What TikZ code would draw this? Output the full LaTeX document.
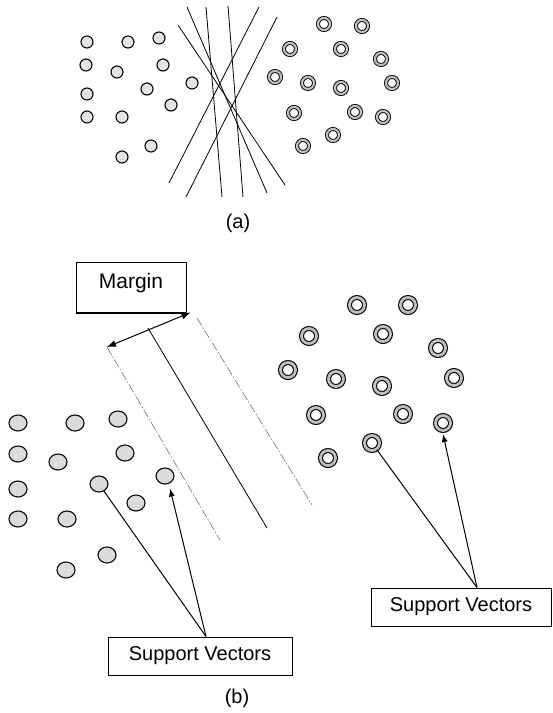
\documentclass[tikz,border=0pt]{standalone}
\usepackage{fontspec}
\setmainfont{Liberation Sans}
\usetikzlibrary{shapes.geometric,arrows.meta}
\tikzset{
  adot/.style={circle,draw=black,line width=1.1pt,fill=gray!20,minimum size=12pt,inner sep=0pt},
  bdot/.style={ellipse,draw=black,line width=1.1pt,fill=gray!28,minimum width=18pt,minimum height=16pt,inner sep=0pt},
  aring/.style={circle,draw=black,line width=0.9pt,double=gray!50,double distance=2.2pt,minimum size=12pt,inner sep=0pt},
  bring/.style={circle,draw=black,line width=1.1pt,double=gray!50,double distance=2.8pt,minimum size=15pt,inner sep=0pt},
  sepline/.style={line width=0.8pt},
  marginline/.style={gray,line width=0.7pt,dash pattern=on 9pt off 2pt on 1.5pt off 2pt},
  labelbox/.style={draw=black,line width=1pt,inner sep=0pt,fill=white},
  captext/.style={font=\fontsize{20}{24}\selectfont},
  conn/.style={line width=1pt},
  arrowtip/.style={-{Latex[length=8pt,width=6pt]}},
}
\begin{document}
\begin{tikzpicture}[x=1pt,y=-1pt]
\useasboundingbox (0,0) rectangle (553,713);
% ---------- (a) ----------
\foreach \x/\y [count=\i] in {87/42,128/42,159/38,86/65,117/72,163/65,192/83,87/94,147/89,171/105,87/117,122/117,151/146,122/157}
  \node[adot] (a\i) at (\x,\y) {};
\foreach \x/\y [count=\i] in {324/24,362/26,290/49,341/49,381/59,275/77,308/83,341/88,392/83,294/113,355/112,383/117,333/135,303/146}
  \node[aring] (ar\i) at (\x,\y) {};
\coordinate (l1s) at (187,7);   \coordinate (l1e) at (267,193);
\coordinate (l2s) at (178,25);  \coordinate (l2e) at (285,185);
\coordinate (l3s) at (206,7);   \coordinate (l3e) at (222,197);
\coordinate (l4s) at (228,6);   \coordinate (l4e) at (243,197);
\coordinate (l5s) at (259,7);   \coordinate (l5e) at (169,183);
\coordinate (l6s) at (277,17);  \coordinate (l6e) at (186,197);
\foreach \i in {1,...,6} \draw[sepline] (l\i s) -- (l\i e);
\node[captext] (capa) at (238,223) {(a)};
% ---------- (b) ----------
\foreach \x/\y [count=\i] in {18/423,75/423,118/419,18/454,58/462,125/453,165/476,99/484,18/489,136/503,18/519,67/519,107/555,66/570}
  \node[bdot] (b\i) at (\x,\y) {};
\foreach \x/\y [count=\i] in {357/305,408/305,309/336,383/334,438/348,288/370,336/379,382/386,454/378,316/415,403/414,443/423,372/443,328/458}
  \node[bring] (br\i) at (\x,\y) {};
% hyperplane and margins
\coordinate (hs) at (148,328); \coordinate (he) at (267,528);
\coordinate (ms) at (107,347); \coordinate (me) at (220,540);
\coordinate (ns) at (197,318); \coordinate (ne) at (312,505);
\draw[sepline] (hs) -- (he);
\draw[marginline] (ms) -- (me);
\draw[marginline] (ns) -- (ne);
% margin label
\node[labelbox,minimum width=110pt,minimum height=50pt] (margin) at (131,287) {};
\node[font=\fontsize{21}{24}\selectfont] (margintxt) at (131,283) {Margin};
\draw[line width=2pt] (margin.south west) -- (margin.south east);
\draw[conn,{Latex[length=9pt,width=7pt]}-{Latex[length=9pt,width=7pt]}] ([xshift=4pt]margin.south east) -- (ms);
% support vectors labels
\node[labelbox,captext,minimum width=184pt,minimum height=38pt] (sv1) at (200,656) {Support Vectors};
\node[labelbox,captext,minimum width=180pt,minimum height=38pt] (sv2) at (461,607) {Support Vectors};
\draw[conn] ([xshift=6pt]sv1.north) -- (b8);
\draw[conn,arrowtip] ([xshift=6pt]sv1.north) -- ([xshift=5pt,yshift=-4pt]b7.south);
\draw[conn] ([xshift=16pt]sv2.north) -- (br13);
\draw[conn,arrowtip] ([xshift=16pt]sv2.north) -- ([yshift=-3pt]br12.south);
\node[captext] (capb) at (237,698) {(b)};
\end{tikzpicture}
\end{document}
